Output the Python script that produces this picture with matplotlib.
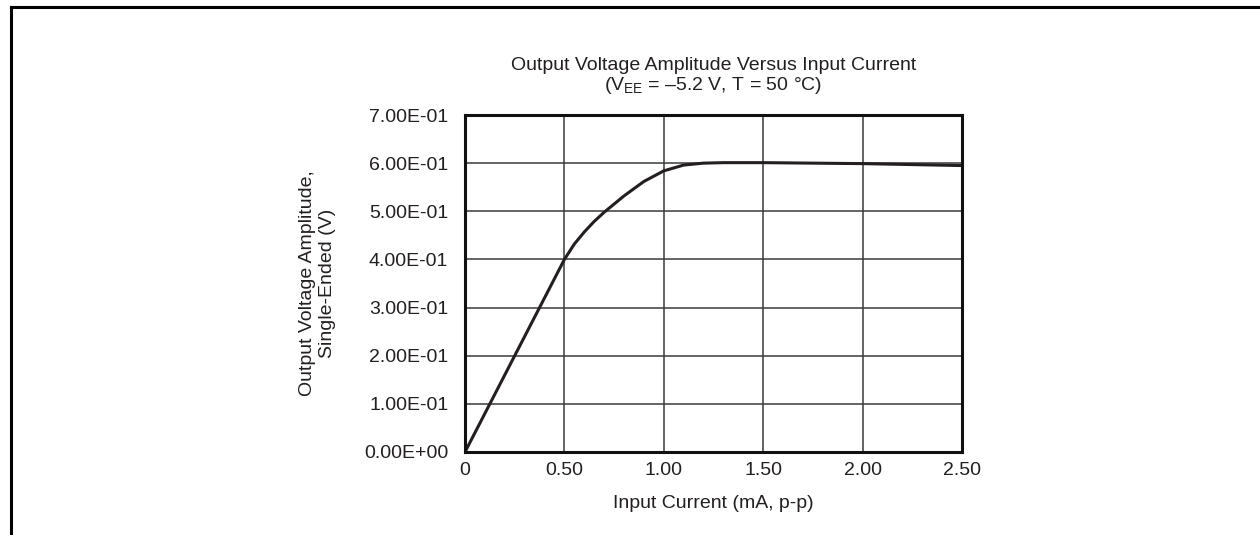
import matplotlib
matplotlib.use("Agg")
import matplotlib.pyplot as plt
from matplotlib.lines import Line2D

plt.rcParams['font.family'] = ['Liberation Sans', 'DejaVu Sans']
plt.rcParams['mathtext.fontset'] = 'custom'
plt.rcParams['mathtext.rm'] = 'Liberation Sans'
plt.rcParams['mathtext.it'] = 'Liberation Sans:italic'

# datos
current_ma = [0, 0.1, 0.2, 0.3, 0.4, 0.5, 0.55, 0.6, 0.65, 0.7, 0.8, 0.9, 1.0,
              1.1, 1.2, 1.3, 1.5, 1.75, 2.0, 2.25, 2.5]
amplitude_v = [0, 0.08, 0.16, 0.24, 0.32, 0.40, 0.432, 0.457, 0.479, 0.498, 0.532,
               0.562, 0.584, 0.596, 0.600, 0.601, 0.601, 0.600, 0.599, 0.597, 0.595]
x_ticks = [0, 0.5, 1.0, 1.5, 2.0, 2.5]
x_labels = ['0', '0.50', '1.00', '1.50', '2.00', '2.50']
y_ticks = [0, 0.1, 0.2, 0.3, 0.4, 0.5, 0.6, 0.7]
y_labels = ['0.00E+00', '1.00E-01', '2.00E-01', '3.00E-01', '4.00E-01',
            '5.00E-01', '6.00E-01', '7.00E-01']

txt = '#231f20'
fs = 14

fig = plt.figure(figsize=(12.6, 5.35), dpi=100)
ax = fig.add_axes([465 / 1260, 1 - 452 / 535, 497 / 1260, 337 / 535])

ax.plot(current_ma, amplitude_v, color='#231f20', lw=2.2, zorder=3)

ax.set_xlim(0, 2.5)
ax.set_ylim(0, 0.7)
ax.set_xticks(x_ticks)
ax.set_xticklabels(x_labels)
ax.set_yticks(y_ticks)
ax.set_yticklabels(y_labels)
ax.tick_params(axis='both', length=0, labelsize=fs, labelcolor=txt)
ax.tick_params(axis='x', pad=7)
ax.tick_params(axis='y', pad=12)
ax.grid(True, color='#3a3a3a', lw=1.1)
for s in ax.spines.values():
    s.set_linewidth(2.2)
    s.set_color('#111111')
    s.set_zorder(4)

ax.set_xlabel('Input Current (mA, p-p)', fontsize=fs, color=txt, labelpad=12)
ax.set_ylabel('Output Voltage Amplitude,\nSingle-Ended (V)', fontsize=fs,
              color=txt, labelpad=20, linespacing=1.25)
ax.set_title('Output Voltage Amplitude Versus Input Current\n'
             '(V$_{\\mathrm{EE}}$ = \u20135.2 V, T = 50 \u00b0C)',
             fontsize=fs, color=txt, pad=18, linespacing=1.05)

# marco exterior (solo arriba e izquierda)
fig.add_artist(Line2D([11 / 1260, 11 / 1260], [1 - 7 / 535, 0],
                      transform=fig.transFigure, color='black', lw=2.2))
fig.add_artist(Line2D([11 / 1260, 1], [1 - 7 / 535, 1 - 7 / 535],
                      transform=fig.transFigure, color='black', lw=2.2))

fig.savefig('out.png', dpi=100)
